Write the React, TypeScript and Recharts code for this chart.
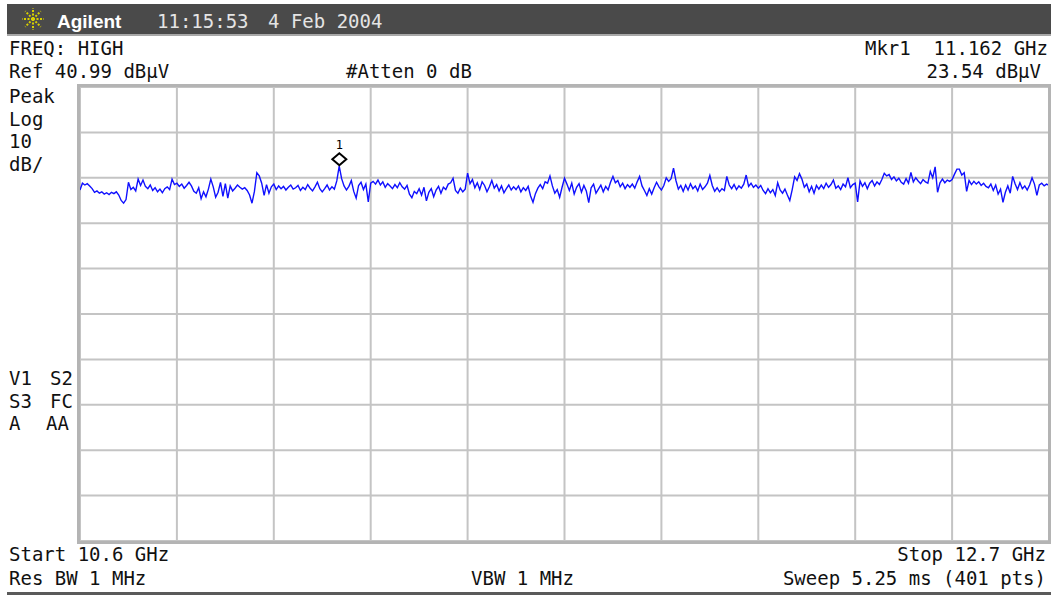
import React from "react";
import { LineChart, Line, XAxis, YAxis, CartesianGrid, ReferenceDot } from "recharts";

// sweep settings shown on the screen
const START_GHZ = 10.6;
const STOP_GHZ = 12.7;
const REF_LEVEL = 40.99;
const DB_PER_DIV = 10;

// 401 trace points, dBuV
const TRACE_DBUV = [
	18.3, 19.8, 19.4, 19.7, 19.2, 18.6, 17.8, 18.1, 17.6, 17.9,
	17.4, 17.7, 17.3, 17.8, 17.5, 17.9, 17.2, 16.0, 15.4, 16.2,
	20.0, 18.4, 18.9, 18.1, 20.7, 19.3, 20.5, 19.1, 18.6, 19.4,
	18.2, 18.8, 17.9, 18.5, 17.7, 18.6, 19.0, 18.4, 20.7, 19.5,
	19.8, 19.1, 19.6, 18.7, 19.3, 20.0, 19.2, 18.0, 17.6, 18.8,
	16.4, 17.9, 16.8, 18.5, 20.7, 19.0, 16.7, 17.8, 20.0, 16.9,
	19.7, 16.5, 19.2, 18.1, 18.7, 19.4, 18.9, 18.5, 18.8, 18.2,
	17.2, 15.4, 18.0, 22.1, 21.4, 19.8, 17.1, 19.5, 17.6, 19.0,
	19.6, 18.4, 19.2, 18.6, 19.1, 18.3, 18.9, 19.4, 18.5, 18.8,
	19.3, 18.2, 18.9, 18.4, 19.5, 18.7, 18.1, 19.0, 20.0, 18.6,
	17.9, 18.6, 19.4, 18.3, 19.0, 18.5, 20.3, 23.54, 20.8, 19.2,
	18.3, 19.1, 20.4, 18.0, 16.5, 19.3, 20.0, 18.4, 19.6, 15.7,
	19.8, 20.2, 19.6, 20.5, 19.4, 20.1, 18.9, 19.7, 19.2, 18.6,
	19.5, 18.8, 19.9, 19.0, 18.5, 19.3, 17.4, 16.6, 18.0, 17.5,
	18.6, 17.2, 18.9, 15.9, 17.8, 18.6, 16.8, 18.3, 19.1, 17.6,
	18.9, 18.4, 19.6, 19.9, 20.9, 18.2, 17.6, 18.7, 17.9, 18.5,
	22.0, 19.7, 20.6, 18.8, 19.9, 18.4, 20.1, 19.3, 17.9, 19.0,
	20.4, 18.7, 19.5, 18.1, 19.2, 17.7, 18.6, 19.4, 18.3, 19.0,
	18.4, 19.2, 17.9, 18.8, 18.2, 19.1, 17.0, 15.6, 17.5, 18.7,
	19.5, 18.6, 20.1, 19.8, 21.4, 19.2, 17.6, 18.4, 16.7, 18.9,
	20.9, 19.6, 18.2, 19.8, 17.4, 18.9, 19.7, 17.8, 19.3, 18.1,
	15.5, 18.8, 19.6, 17.6, 18.5, 19.4, 17.9, 19.1, 18.3, 20.0,
	21.3, 19.9, 20.4, 19.0, 19.8, 18.6, 19.5, 18.9, 19.6, 18.7,
	20.1, 21.3, 19.2, 18.2, 17.1, 18.6, 17.4, 18.8, 20.0, 19.0,
	18.3, 19.3, 21.0, 20.2, 20.8, 23.1, 20.4, 18.5, 19.3, 18.0,
	19.4, 18.3, 19.7, 18.6, 19.2, 18.1, 19.6, 18.4, 19.0, 19.8,
	21.5, 19.3, 18.0, 18.8, 17.9, 18.6, 18.2, 21.3, 19.4, 18.6,
	19.5, 18.4, 19.2, 18.7, 19.6, 21.6, 19.1, 19.8, 18.9, 19.4,
	18.7, 19.3, 18.2, 17.5, 18.6, 17.7, 18.4, 17.1, 19.9, 18.3,
	17.6, 18.5, 17.2, 16.0, 18.4, 21.2, 20.4, 21.9, 20.7, 18.9,
	19.6, 17.9, 19.1, 17.6, 19.3, 18.5, 19.4, 18.6, 19.8, 18.9,
	19.5, 20.5, 18.7, 19.2, 18.4, 19.6, 19.0, 21.0, 18.8, 19.5,
	19.8, 15.7, 20.3, 19.1, 19.9, 18.6, 19.8, 20.4, 19.2, 20.1,
	19.5, 20.6, 22.0, 21.4, 21.7, 20.6, 21.2, 20.3, 20.9, 20.0,
	19.6, 20.8, 19.8, 22.2, 20.1, 21.0, 20.3, 19.7, 20.6, 20.1,
	19.8, 22.4, 21.0, 23.4, 17.8, 19.9, 20.7, 19.9, 20.5, 20.2,
	20.6, 21.8, 22.9, 22.9, 21.6, 22.1, 18.0, 20.4, 19.5, 20.2,
	19.6, 20.1, 19.3, 19.8, 19.1, 18.8, 19.6, 18.2, 19.4, 17.4,
	18.5, 15.6, 17.8, 19.2, 17.6, 21.3, 19.7, 18.4, 19.9, 18.6,
	19.2, 18.3, 19.4, 21.0, 19.6, 17.1, 19.4, 19.8, 19.2, 19.6,
	19.3
];

const MARKER_GHZ = 11.162;
const MARKER_DBUV = 23.54;

const FREQ_TICKS = [10.6, 10.81, 11.02, 11.23, 11.44, 11.65, 11.86, 12.07, 12.28, 12.49, 12.7];
const LEVEL_TICKS = [40.99, 30.99, 20.99, 10.99, 0.99, -9.01, -19.01, -29.01, -39.01, -49.01, -59.01];

const step = (STOP_GHZ - START_GHZ) / (TRACE_DBUV.length - 1);
const data = TRACE_DBUV.map((v, i) => ({ f: START_GHZ + i * step, level: v }));

const MONO = "'DejaVu Sans Mono', monospace";

const MarkerShape = (props: any) => {
	const { cx, cy } = props;
	if (cx == null || cy == null) return null;
	const top = cy - 1;
	return (
		<g>
			<polygon
				points={`${cx},${top} ${cx + 7},${top - 6} ${cx},${top - 12} ${cx - 7},${top - 6}`}
				fill="#fff"
				stroke="#000"
				strokeWidth={2}
			/>
			<text x={cx} y={top - 16} textAnchor="middle" fontSize={12} fontFamily={MONO} fill="#000">
				1
			</text>
		</g>
	);
};

const Logo = () => {
	const rays = [0, 45, 90, 135, 180, 225, 270, 315];
	return (
		<g transform="translate(33,19)">
			{rays.map((a) => (
				<line
					key={a}
					x1={0}
					y1={0}
					x2={11 * Math.cos((a * Math.PI) / 180)}
					y2={11 * Math.sin((a * Math.PI) / 180)}
					stroke="#d8d000"
					strokeWidth={2}
					strokeDasharray="2 1.5"
				/>
			))}
		</g>
	);
};

export default function App() {
	const txt = { fontFamily: MONO, fontSize: 19, fill: "#111", style: { whiteSpace: "pre" as const } };
	return (
		<div style={{ position: "absolute", left: 0, top: 0, width: 1051, height: 596, background: "#fff", overflow: "hidden" }}>
			<div style={{ position: "absolute", left: 7, top: 4, width: 1044, height: 30, background: "#4a4a4a" }} />
			<div style={{ position: "absolute", left: 7, top: 34, width: 1044, height: 2, background: "#a8a8a8" }} />

			<div style={{ position: "absolute", left: 0, top: 0 }}>
				<LineChart width={1051} height={596} data={data} margin={{ top: 87, right: 2, bottom: 55, left: 80 }}>
					<CartesianGrid stroke="#c4c4c4" strokeWidth={2} />
					<XAxis type="number" dataKey="f" domain={[START_GHZ, STOP_GHZ]} ticks={FREQ_TICKS} hide />
					<YAxis
						type="number"
						domain={[REF_LEVEL - 10 * DB_PER_DIV, REF_LEVEL]}
						ticks={LEVEL_TICKS}
						hide
					/>
					<Line
						type="linear"
						dataKey="level"
						stroke="#1010ff"
						strokeWidth={1.4}
						dot={false}
						isAnimationActive={false}
					/>
					<ReferenceDot x={MARKER_GHZ} y={MARKER_DBUV} shape={MarkerShape} />
				</LineChart>
			</div>

			<div
				style={{
					position: "absolute",
					left: 77,
					top: 84,
					width: 974,
					height: 460,
					boxSizing: "border-box",
					border: "3px solid #b4b4b4",
					pointerEvents: "none"
				}}
			/>
			<div style={{ position: "absolute", left: 7, top: 592, width: 1044, height: 3, background: "#5a5a5a" }} />

			<svg width={1051} height={596} style={{ position: "absolute", left: 0, top: 0, pointerEvents: "none" }}>
				<Logo />
				<text x={57} y={28} fontFamily="'Liberation Sans', Arial, sans-serif" fontWeight="bold" fontSize={19} fill="#fff">
					Agilent
				</text>
				<text x={157} y={28} fontFamily={MONO} fontSize={19} fill="#e4e4e4">11:15:53</text>
				<text x={268} y={28} fontFamily={MONO} fontSize={19} fill="#e4e4e4">4 Feb 2004</text>

				<text x={9} y={55} {...txt}>FREQ: HIGH</text>
				<text x={9} y={78} {...txt}>Ref 40.99 dBµV</text>
				<text x={346} y={78} {...txt}>#Atten 0 dB</text>
				<text x={1048} y={55} textAnchor="end" {...txt}>Mkr1  11.162 GHz</text>
				<text x={1041} y={78} textAnchor="end" {...txt}>23.54 dBµV</text>

				<text x={9} y={103} {...txt}>Peak</text>
				<text x={9} y={126} {...txt}>Log</text>
				<text x={9} y={148} {...txt}>10</text>
				<text x={9} y={171} {...txt}>dB/</text>

				<text x={9} y={385} {...txt}>V1</text>
				<text x={50} y={385} {...txt}>S2</text>
				<text x={9} y={408} {...txt}>S3</text>
				<text x={50} y={408} {...txt}>FC</text>
				<text x={9} y={430} {...txt}>A</text>
				<text x={46} y={430} {...txt}>AA</text>

				<text x={9} y={561} {...txt}>Start 10.6 GHz</text>
				<text x={1046} y={561} textAnchor="end" {...txt}>Stop 12.7 GHz</text>
				<text x={9} y={585} {...txt}>Res BW 1 MHz</text>
				<text x={471} y={585} {...txt}>VBW 1 MHz</text>
				<text x={1046} y={585} textAnchor="end" {...txt}>Sweep 5.25 ms (401 pts)</text>
			</svg>
		</div>
	);
}
